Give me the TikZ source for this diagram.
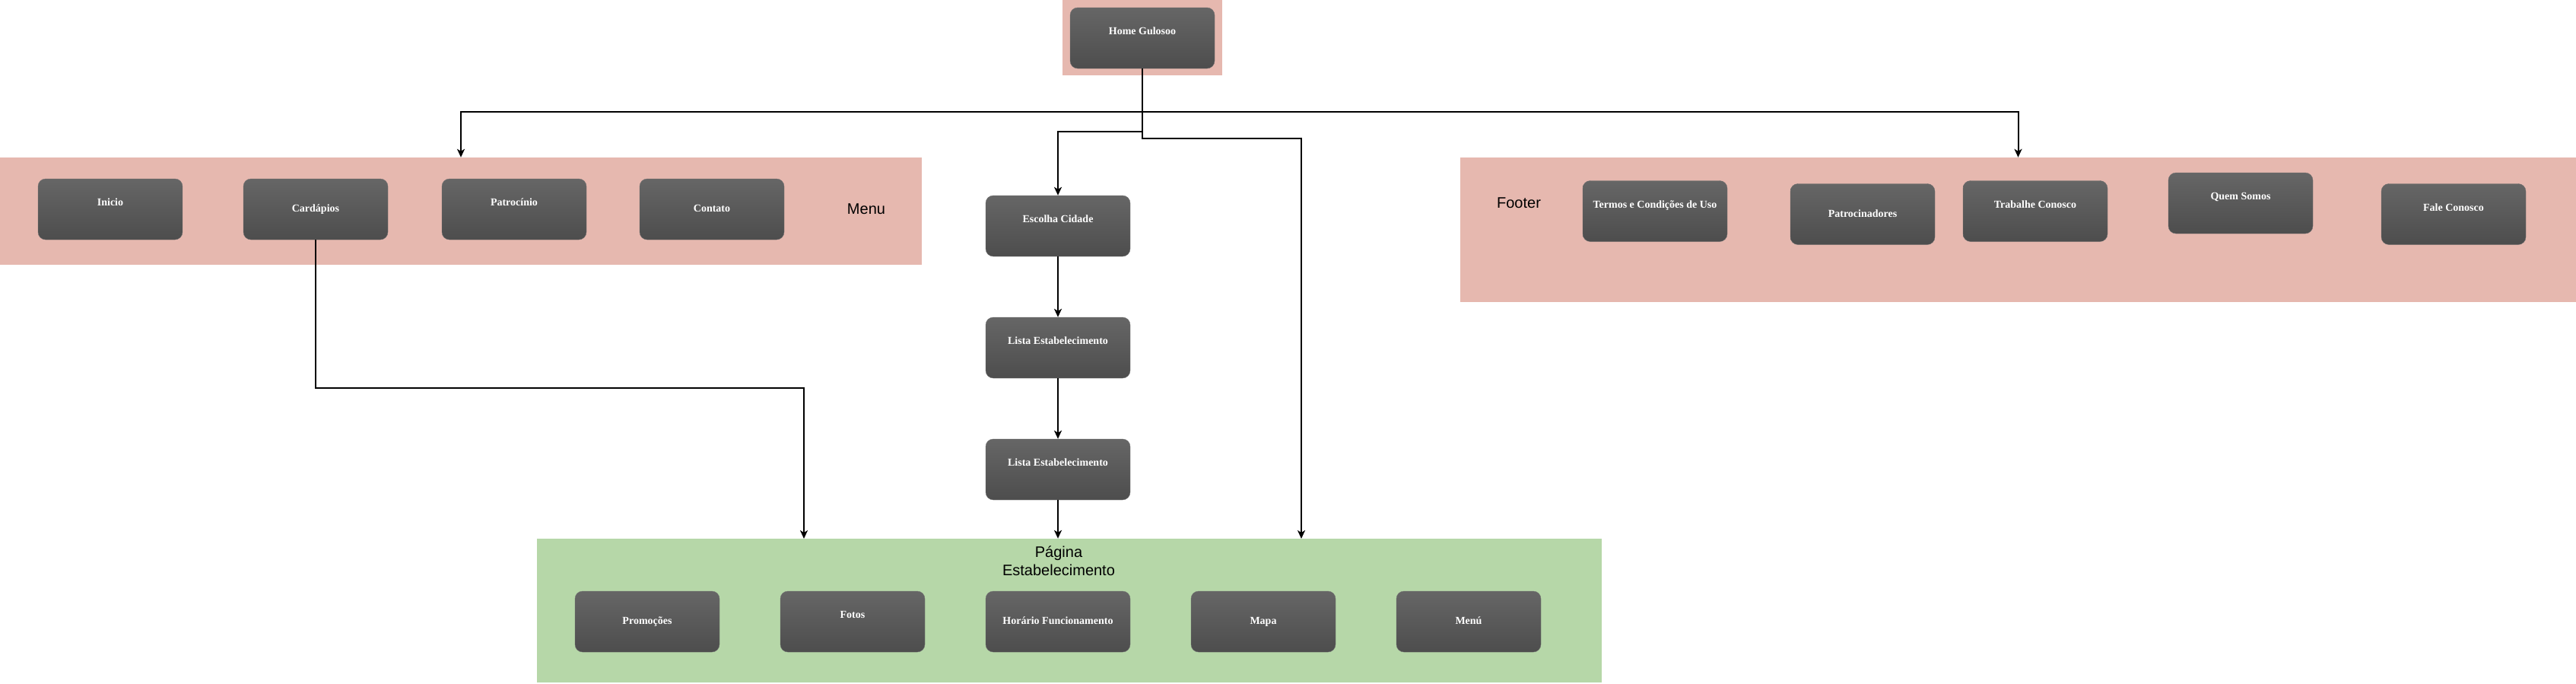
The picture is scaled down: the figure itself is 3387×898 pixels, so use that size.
\documentclass[tikz,border=0pt]{standalone}
\usepackage{fontspec}
\setmainfont{Liberation Serif}
\newfontfamily\labelfont{Liberation Sans}
\usetikzlibrary{arrows.meta}

\definecolor{barpink}{HTML}{E6B8AF}
\definecolor{bargreen}{HTML}{B6D7A8}
\definecolor{boxtop}{HTML}{666666}
\definecolor{boxbot}{HTML}{4D4D4D}

\tikzset{
  pagebox/.style={rectangle, rounded corners=10pt, draw=boxbot!80, top color=boxtop, bottom color=boxbot, text=white, font=\bfseries\fontsize{14}{16}\selectfont, minimum width=190pt, minimum height=80pt, text height=10pt, text depth=3pt, inner sep=0pt},
  raised/.style={text depth=19pt},
  bar/.style={rectangle, inner sep=0pt, draw=none},
  bartext/.style={font=\labelfont\fontsize{20}{24}\selectfont, align=center},
  link/.style={-{Stealth[length=11pt, width=10pt, inset=3pt]}, line width=2pt}
}

\begin{document}
\begin{tikzpicture}[x=1pt, y=-1pt]
\useasboundingbox (0,0) rectangle (3387,898);

\node[bar, fill=barpink, minimum width=210pt, minimum height=99pt] (homebar) at (1502, 49.5) {};
\node[bar, fill=barpink, minimum width=1212pt, minimum height=141pt] (menu) at (606, 277.5) {};
\node[bar, fill=barpink, minimum width=1467pt, minimum height=190pt] (footer) at (2653.5, 302) {};
\node[bar, fill=bargreen, minimum width=1400pt, minimum height=189pt] (pagina) at (1406, 802.5) {};

\node[bartext] (menulabel) at (1139, 275) {Menu};
\node[bartext] (footerlabel) at (1997, 267) {Footer};
\node[bartext] (paginalabel) at (1392, 737) {Página\\Estabelecimento};

\node[pagebox, raised] (home) at (1502, 50) {Home Gulosoo};

\node[pagebox, raised] (inicio) at (145, 275) {Inicio};
\node[pagebox] (cardapios) at (415, 275) {Cardápios};
\node[pagebox, raised] (patrocinio) at (676, 275) {Patrocínio};
\node[pagebox] (contato) at (936, 275) {Contato};

\node[pagebox, raised] (escolha) at (1391, 297) {Escolha Cidade};
\node[pagebox, raised] (lista1) at (1391, 457) {Lista Estabelecimento};
\node[pagebox, raised] (lista2) at (1391, 617) {Lista Estabelecimento};

\node[pagebox] (promocoes) at (851, 817) {Promoções};
\node[pagebox, raised] (fotos) at (1121, 817) {Fotos};
\node[pagebox] (horario) at (1391, 817) {Horário Funcionamento};
\node[pagebox] (mapa) at (1661, 817) {Mapa};
\node[pagebox] (menuitem) at (1931, 817) {Menú};

\node[pagebox, raised] (termos) at (2176, 277.5) {Termos e Condições de Uso};
\node[pagebox] (patrocinadores) at (2449, 281.5) {Patrocinadores};
\node[pagebox, raised] (trabalhe) at (2676, 277.5) {Trabalhe Conosco};
\node[pagebox, raised] (quem) at (2946, 267) {Quem Somos};
\node[pagebox, raised] (fale) at (3226, 281.5) {Fale Conosco};

\coordinate (cardin) at (1057, 708);
\coordinate (mapin) at (1711, 708);

\draw[link] (home.south) -- ++(0,57) -| (menu.north);
\draw[link] (home.south) -- ++(0,57) -| (footer.north);
\draw[link] (home.south) -- ++(0,83) -| (escolha.north);
\draw[link] (home.south) -- ++(0,92) -| (mapin);

\draw[link] (escolha.south) -- (lista1.north);
\draw[link] (lista1.south) -- (lista2.north);
\draw[link] (lista2.south) -- (lista2.south |- pagina.north);

\draw[link] (cardapios.south) -- ++(0,195) -| (cardin);

\end{tikzpicture}
\end{document}
